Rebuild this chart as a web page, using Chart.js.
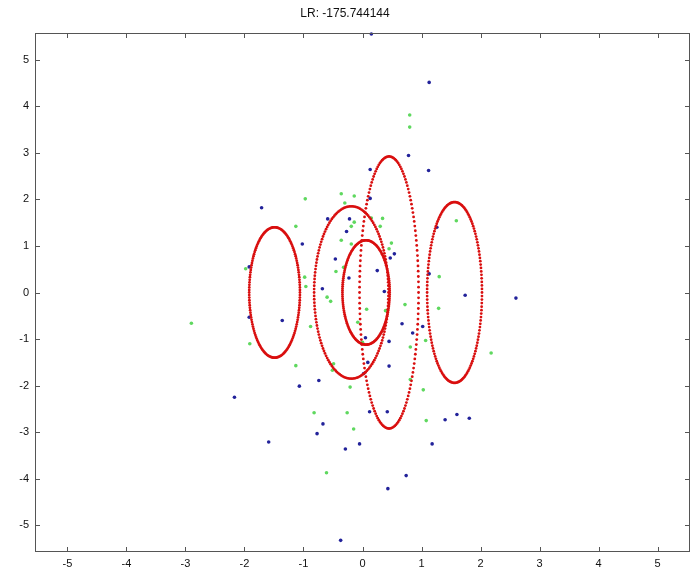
<!DOCTYPE html>
<html>
<head>
<meta charset="utf-8">
<script src="https://cdn.jsdelivr.net/npm/chart.js@4.4.0/dist/chart.umd.min.js"></script>
<style>
  html, body { margin: 0; padding: 0; background: #fff; }
  #wrap { width: 694px; height: 575px; }
</style>
</head>
<body>
<div id="wrap"><canvas id="scatter-chart"></canvas></div>
<script>
/////////---------DATA--------////////////////
const titleText = "LR: -175.744144";
const tickValues = [-5, -4, -3, -2, -1, 0, 1, 2, 3, 4, 5];

const blueX = [0.15, 1.13, 0.78, 1.12, 0.13, 0.13, -1.71, -0.59, -0.22, -0.27, 1.26, -1.02, 0.54, 0.47, -0.46, 0.25, -0.23, 1.13, -1.92, -1.92, -0.68, 0.37, 1.74, 2.6, -1.36, 0.67, 1.02, 0.85, 0.05, 0.45, 0.09, 0.45, 0.02, -1.07, -0.74, -2.17, 0.12, 0.42, 1.4, 1.6, 1.81, -0.67, -0.77, -0.29, -0.05, 1.18, -1.59, 0.74, 0.43, -0.37];
const blueY = [5.55, 4.51, 2.94, 2.62, 2.64, 2.02, 1.82, 1.58, 1.58, 1.31, 1.4, 1.04, 0.83, 0.74, 0.72, 0.47, 0.31, 0.4, 0.55, -0.53, 0.08, 0.02, -0.06, -0.12, -0.6, -0.67, -0.73, -0.87, -0.97, -1.05, -1.5, -1.58, -1.74, -2.01, -1.89, -2.25, -2.56, -2.56, -2.73, -2.62, -2.7, -2.82, -3.03, -3.36, -3.25, -3.25, -3.21, -3.93, -4.21, -5.32];

const greenX = [0.8, 0.8, -0.97, -0.36, -0.14, -0.3, 0.15, 0.34, 1.59, -0.14, 0.3, -0.19, -1.13, -0.36, -0.19, 0.49, 0.45, -0.45, -0.32, 1.3, -1.98, -0.98, -0.96, -0.6, -0.54, 0.07, 0.39, 0.72, 1.29, -0.88, -0.08, 0.0, 1.07, 0.81, -1.91, -2.9, 2.18, -1.13, -0.49, -0.51, 0.81, -0.21, 1.03, -0.82, -0.26, 1.08, -0.15, -0.61];
const greenY = [3.81, 3.55, 2.01, 2.12, 2.07, 1.92, 1.6, 1.59, 1.54, 1.51, 1.42, 1.42, 1.42, 1.12, 1.04, 1.06, 0.94, 0.45, 0.54, 0.34, 0.51, 0.33, 0.13, -0.1, -0.19, -0.36, -0.39, -0.26, -0.34, -0.73, -0.64, -1.07, -1.03, -1.17, -1.1, -0.66, -1.3, -1.57, -1.53, -1.67, -1.87, -2.03, -2.09, -2.58, -2.58, -2.75, -2.93, -3.87];

// ellipses: centre and half axes, in data units
const ellipseCx = [-1.49, -0.19, 0.06, 0.45, 1.56];
const ellipseCy = [0, 0, 0, 0, 0];
const ellipseRx = [0.43, 0.63, 0.4, 0.5, 0.465];
const ellipseRy = [1.4, 1.85, 1.12, 2.92, 1.94];

function toPoints(xs, ys) {
  return xs.map(function (x, i) { return { x: x, y: ys[i] }; });
}

/////////---------PLUGINS--------////////////////
// red dotted ellipses, placed through the chart scales
const ellipsePlugin = {
  id: "ellipses",
  afterDatasetsDraw(chart) {
    const ctx = chart.ctx;
    const xs = chart.scales.x;
    const ys = chart.scales.y;
    ctx.save();
    ctx.fillStyle = "#d90f0f";
    const n = 160;
    for (let e = 0; e < ellipseCx.length; e++) {
      for (let i = 0; i < n; i++) {
        const t = (i / n) * Math.PI * 2;
        const px = xs.getPixelForValue(ellipseCx[e] + ellipseRx[e] * Math.cos(t));
        const py = ys.getPixelForValue(ellipseCy[e] + ellipseRy[e] * Math.sin(t));
        ctx.beginPath();
        ctx.arc(px, py, 1.4, 0, Math.PI * 2);
        ctx.fill();
      }
    }
    ctx.restore();
  },
};

// box with inward tick marks on all four sides
const framePlugin = {
  id: "frame",
  afterDraw(chart) {
    const ctx = chart.ctx;
    const a = chart.chartArea;
    const xs = chart.scales.x;
    const ys = chart.scales.y;
    const len = 5;
    ctx.save();
    ctx.strokeStyle = "#555";
    ctx.lineWidth = 1;
    ctx.strokeRect(Math.round(a.left) + 0.5, Math.round(a.top) + 0.5,
      Math.round(a.right - a.left) - 1, Math.round(a.bottom - a.top) - 1);
    ctx.beginPath();
    tickValues.forEach(function (v) {
      const px = Math.round(xs.getPixelForValue(v)) + 0.5;
      ctx.moveTo(px, a.bottom);
      ctx.lineTo(px, a.bottom - len);
      ctx.moveTo(px, a.top);
      ctx.lineTo(px, a.top + len);
      const py = Math.round(ys.getPixelForValue(v)) + 0.5;
      ctx.moveTo(a.left, py);
      ctx.lineTo(a.left + len, py);
      ctx.moveTo(a.right, py);
      ctx.lineTo(a.right - len, py);
    });
    ctx.stroke();
    ctx.restore();
  },
};

/////////---------CHART--------////////////////
const tickFont = { family: "'Liberation Sans', Arial, sans-serif", size: 11 };

new Chart(document.getElementById("scatter-chart"), {
  type: "scatter",
  data: {
    datasets: [
      {
        label: "blue",
        data: toPoints(blueX, blueY),
        backgroundColor: "#22229a",
        borderColor: "#22229a",
        pointRadius: 1.8,
        pointBorderWidth: 0,
        clip: false,
      },
      {
        label: "green",
        data: toPoints(greenX, greenY),
        backgroundColor: "#5fd85f",
        borderColor: "#5fd85f",
        pointRadius: 1.8,
        pointBorderWidth: 0,
        clip: false,
      },
    ],
  },
  options: {
    responsive: true,
    maintainAspectRatio: false,
    animation: false,
    events: [],
    layout: { padding: { left: 0, right: 4, top: 0, bottom: 0 } },
    plugins: {
      legend: { display: false },
      tooltip: { enabled: false },
      title: {
        display: true,
        text: titleText,
        color: "#111",
        font: { family: "'Liberation Sans', Arial, sans-serif", size: 12, weight: "normal" },
        padding: { top: 6, bottom: 12.6 },
      },
    },
    scales: {
      x: {
        type: "linear",
        min: -5.55,
        max: 5.55,
        grid: { display: false, drawTicks: false },
        border: { display: false },
        ticks: { color: "#111", font: tickFont, padding: 5 },
        afterBuildTicks: function (scale) {
          scale.ticks = tickValues.map(function (v) { return { value: v }; });
        },
        afterFit: function (scale) { scale.height = 23; },
      },
      y: {
        type: "linear",
        min: -5.57,
        max: 5.57,
        grid: { display: false, drawTicks: false },
        border: { display: false },
        ticks: { color: "#111", font: tickFont, padding: 6 },
        afterBuildTicks: function (scale) {
          scale.ticks = tickValues.map(function (v) { return { value: v }; });
        },
        afterFit: function (scale) { scale.width = 35; },
      },
    },
  },
  plugins: [ellipsePlugin, framePlugin],
});
</script>
</body>
</html>
